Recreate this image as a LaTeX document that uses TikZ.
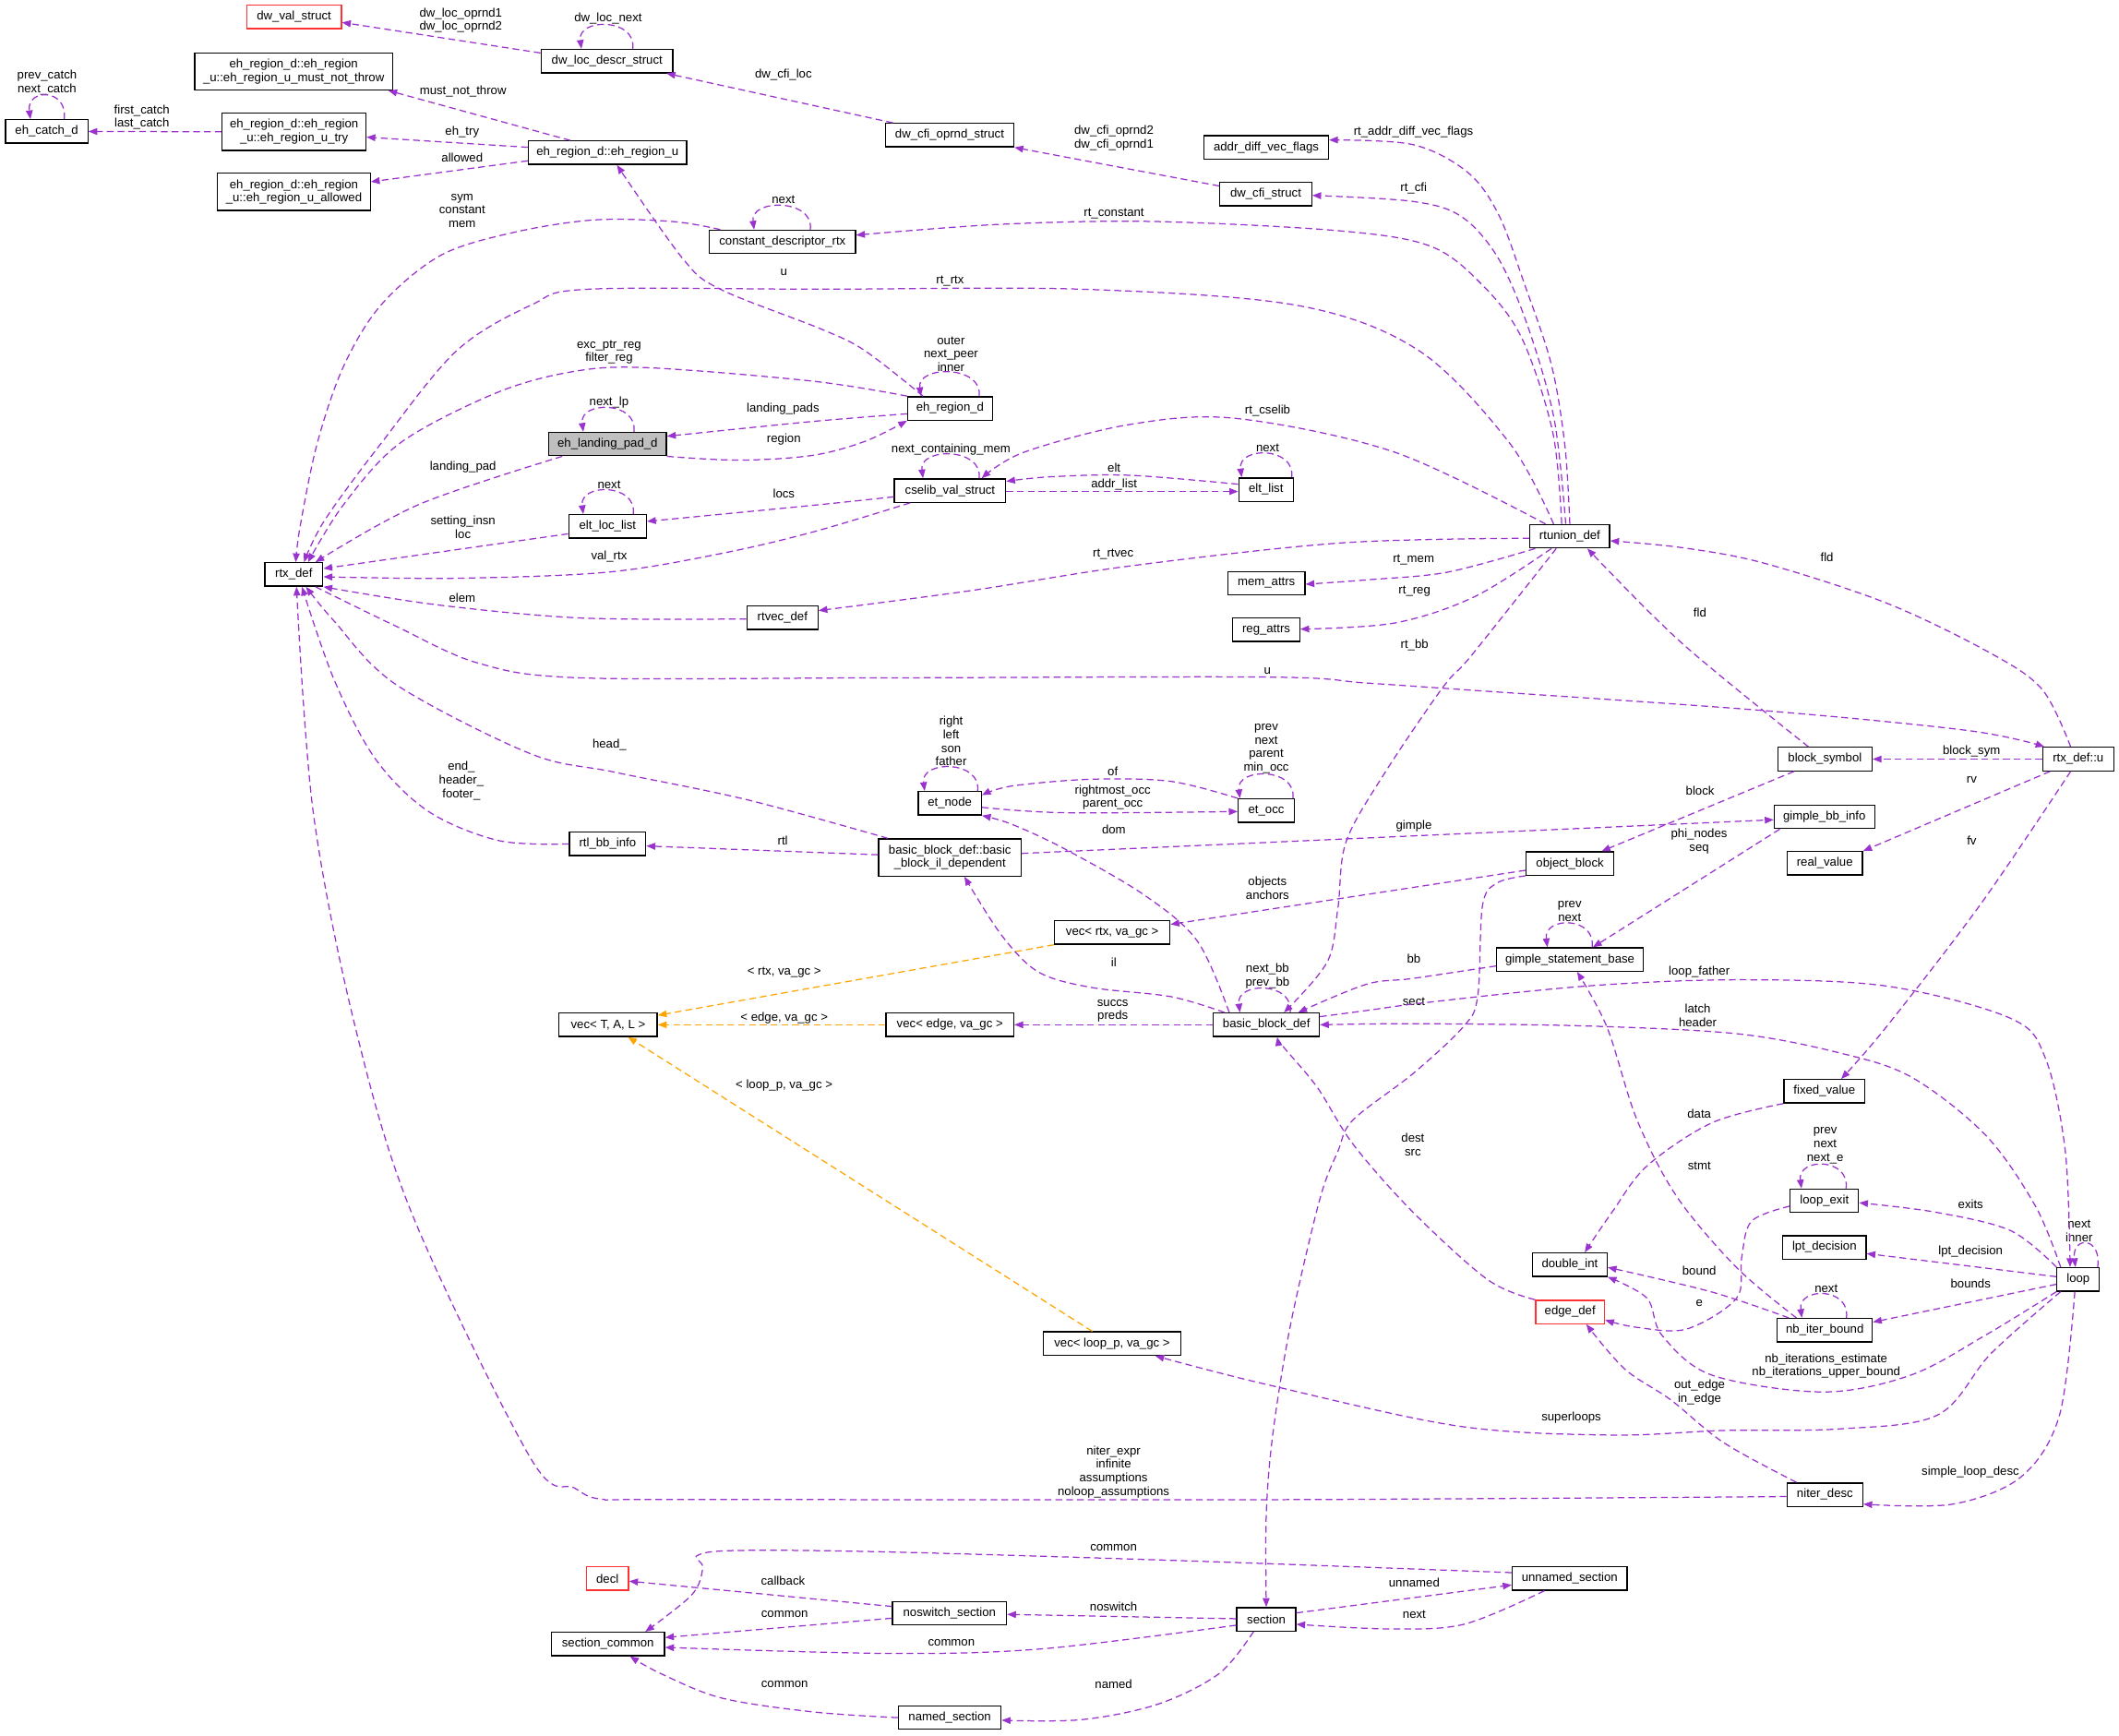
\documentclass[tikz,border=0pt]{standalone}
\usepackage{fontspec}
\setmainfont{Liberation Sans}
\usetikzlibrary{arrows.meta}
\definecolor{edgec}{HTML}{9A32CD}
\definecolor{tmplc}{HTML}{FFA500}
\definecolor{redb}{HTML}{FF3030}
\definecolor{focusc}{HTML}{BFBFBF}
\newcommand\gfont{\fontsize{9}{10}\selectfont}
\newcommand\selfloop[3]{\draw[conn] ([xshift=#3pt]#1.north) .. controls +(3,-23) and +(-3,-23) .. ([xshift=#2pt]#1.north);}
\begin{document}
\begin{tikzpicture}[x=1pt,y=-1pt,
 nbox/.style={draw=black,line width=0.9pt,fill=white,inner sep=0pt,minimum height=17.3pt,font=\gfont,align=center},
 nboxt/.style={nbox,minimum height=27.5pt},
 nboxr/.style={nbox,draw=redb},
 nboxf/.style={nbox,fill=focusc},
 lbl/.style={font=\gfont,align=center,inner sep=0pt},
 conn/.style={draw=edgec,line width=0.85pt,dash pattern=on 5pt off 3pt,-{Triangle[length=6.5pt,width=5pt]}},
 tconn/.style={conn,draw=tmplc},
 sm/.style={smooth,tension=0.55}]
\fill[white] (0,0) rectangle (1568,1284);
\useasboundingbox (0,0) rectangle (1568,1284);
% ---------------- nodes ----------------
\node[nboxr,minimum width=70pt] (dwval) at (217.6,12.6) {dw\_val\_struct};
\node[nbox,minimum width=97.5pt] (dwloc) at (449.2,45.2) {dw\_loc\_descr\_struct};
\node[nboxt,minimum width=146.6pt] (mnt) at (217.3,52.8) {eh\_region\_d::eh\_region\\\_u::eh\_region\_u\_must\_not\_throw};
\node[nbox,minimum width=61pt] (catch) at (34.5,97.3) {eh\_catch\_d};
\node[nboxt,minimum width=106.3pt] (try) at (217.6,97.5) {eh\_region\_d::eh\_region\\\_u::eh\_region\_u\_try};
\node[nbox,minimum width=117pt] (ehu) at (449.5,113) {eh\_region\_d::eh\_region\_u};
\node[nboxt,minimum width=113pt] (allowed) at (217.5,142) {eh\_region\_d::eh\_region\\\_u::eh\_region\_u\_allowed};
\node[nbox,minimum width=95pt] (cfiop) at (702.7,100) {dw\_cfi\_oprnd\_struct};
\node[nbox,minimum width=92pt] (addr) at (937,109) {addr\_diff\_vec\_flags};
\node[nbox,minimum width=68pt] (cfist) at (936.6,143.6) {dw\_cfi\_struct};
\node[nbox,minimum width=108pt] (cdr) at (579,179) {constant\_descriptor\_rtx};
\node[nbox,minimum width=62.7pt] (ehd) at (703,302.2) {eh\_region\_d};
\node[nboxf,minimum width=87pt] (lpad) at (449.6,328.6) {eh\_landing\_pad\_d};
\node[nbox,minimum width=82.3pt] (cselib) at (703,363) {cselib\_val\_struct};
\node[nbox,minimum width=40.4pt] (eltlist) at (936.8,362.3) {elt\_list};
\node[nbox,minimum width=57.5pt] (eltloc) at (449.6,389.5) {elt\_loc\_list};
\node[nbox,minimum width=43pt] (rtx) at (217.4,425.1) {rtx\_def};
\node[nbox,minimum width=59pt] (rtunion) at (1161.6,396.8) {rtunion\_def};
\node[nbox,minimum width=57pt] (memattrs) at (937.1,431.5) {mem\_attrs};
\node[nbox,minimum width=52.5pt] (rtvec) at (579,457.2) {rtvec\_def};
\node[nbox,minimum width=49.5pt] (regattrs) at (937,466) {reg\_attrs};
\node[nbox,minimum width=52.4pt] (rtxu) at (1537.8,561.7) {rtx\_def::u};
\node[nbox,minimum width=69.7pt] (blocksym) at (1350.4,561.7) {block\_symbol};
\node[nbox,minimum width=46.7pt] (etnode) at (702.8,594.4) {et\_node};
\node[nbox,minimum width=41.5pt] (etocc) at (937,599.8) {et\_occ};
\node[nbox,minimum width=74.3pt] (gbb) at (1350,604.4) {gimple\_bb\_info};
\node[nbox,minimum width=56.5pt] (rtlbb) at (449.6,624.5) {rtl\_bb\_info};
\node[nboxt,minimum width=105.5pt] (bbil) at (702.9,634.5) {basic\_block\_def::basic\\\_block\_il\_dependent};
\node[nbox,minimum width=55.8pt] (realval) at (1350.3,638.8) {real\_value};
\node[nbox,minimum width=65pt] (objblock) at (1161.7,639) {object\_block};
\node[nbox,minimum width=85.4pt] (vecrtx) at (823,690) {vec< rtx, va\_gc >};
\node[nbox,minimum width=108.7pt] (gsb) at (1161.7,710) {gimple\_statement\_base};
\node[nbox,minimum width=72.6pt] (vectal) at (450,758.3) {vec< T, A, L >};
\node[nbox,minimum width=94.5pt] (vecedge) at (702.9,758.3) {vec< edge, va\_gc >};
\node[nbox,minimum width=78.4pt] (bbdef) at (937.1,758.3) {basic\_block\_def};
\node[nbox,minimum width=60pt] (fixedval) at (1350,807.5) {fixed\_value};
\node[nbox,minimum width=50.5pt] (loopexit) at (1350,888.5) {loop\_exit};
\node[nbox,minimum width=61.5pt] (lpt) at (1350,923) {lpt\_decision};
\node[nbox,minimum width=55.2pt] (dblint) at (1161.6,935.8) {double\_int};
\node[nbox,minimum width=31.4pt] (loop) at (1537.8,946.7) {loop};
\node[nboxr,minimum width=51pt] (edgedef) at (1161.8,970.8) {edge\_def};
\node[nbox,minimum width=70.3pt] (nbiter) at (1350.3,984.3) {nb\_iter\_bound};
\node[nbox,minimum width=101.6pt] (vecloop) at (822.9,994.2) {vec< loop\_p, va\_gc >};
\node[nbox,minimum width=56pt] (niterdesc) at (1350.4,1106) {niter\_desc};
\node[nboxr,minimum width=31.2pt] (decl) at (449.5,1168) {decl};
\node[nbox,minimum width=85pt] (unnamed) at (1161.5,1168) {unnamed\_section};
\node[nbox,minimum width=84.4pt] (noswitch) at (702.6,1193.7) {noswitch\_section};
\node[nbox,minimum width=43.6pt] (section) at (937,1198.2) {section};
\node[nbox,minimum width=83.8pt] (seccommon) at (449.8,1216.5) {section\_common};
\node[nbox,minimum width=75.9pt] (named) at (702.8,1271) {named\_section};
% ---------------- labels ----------------
\node[lbl] (l1) at (341,15) {dw\_loc\_oprnd1\\dw\_loc\_oprnd2};
\node[lbl] (l2) at (450,14) {dw\_loc\_next};
\node[lbl] (l3) at (579.7,55.1) {dw\_cfi\_loc};
\node[lbl] (l4) at (342.6,67.4) {must\_not\_throw};
\node[lbl] (l5) at (34.8,61.2) {prev\_catch\\next\_catch};
\node[lbl] (l6) at (105,86.8) {first\_catch\\last\_catch};
\node[lbl] (l7) at (342,97.4) {eh\_try};
\node[lbl] (l8) at (342,116.5) {allowed};
\node[lbl] (l9) at (824.3,102.2) {dw\_cfi\_oprnd2\\dw\_cfi\_oprnd1};
\node[lbl] (l10) at (1045.9,97.4) {rt\_addr\_diff\_vec\_flags};
\node[lbl] (l11) at (1046,139.3) {rt\_cfi};
\node[lbl] (l12) at (579.7,148) {next};
\node[lbl] (l13) at (824.3,158.2) {rt\_constant};
\node[lbl] (l14) at (342,156) {sym\\constant\\mem};
\node[lbl] (l15) at (580,201.5) {u};
\node[lbl] (l16) at (703,208) {rt\_rtx};
\node[lbl] (l17) at (703.7,262) {outer\\next\_peer\\inner};
\node[lbl] (l18) at (450.7,260.7) {exc\_ptr\_reg\\filter\_reg};
\node[lbl] (l19) at (579.4,302.7) {landing\_pads};
\node[lbl] (l20) at (450.7,297.5) {next\_lp};
\node[lbl] (l21) at (580,324.9) {region};
\node[lbl] (l22) at (938,303.9) {rt\_cselib};
\node[lbl] (l23) at (703.7,332.8) {next\_containing\_mem};
\node[lbl] (l24) at (938,331.2) {next};
\node[lbl] (l25) at (824.4,346) {elt};
\node[lbl] (l26) at (824.4,358.5) {addr\_list};
\node[lbl] (l27) at (342.6,345.9) {landing\_pad};
\node[lbl] (l28) at (450.7,358.5) {next};
\node[lbl] (l29) at (580,365.3) {locs};
\node[lbl] (l30) at (342.6,390) {setting\_insn\\loc};
\node[lbl] (l31) at (450.7,411.6) {val\_rtx};
\node[lbl] (l32) at (823.7,410.2) {rt\_rtvec};
\node[lbl] (l33) at (1046,414.3) {rt\_mem};
\node[lbl] (l34) at (1351.9,412) {fld};
\node[lbl] (l35) at (1046.7,437.7) {rt\_reg};
\node[lbl] (l36) at (342,442.3) {elem};
\node[lbl] (l37) at (1257.9,453) {fld};
\node[lbl] (l38) at (1046.7,477.6) {rt\_bb};
\node[lbl] (l39) at (937.8,496.7) {u};
\node[lbl] (l40) at (703.8,548.4) {right\\left\\son\\father};
\node[lbl] (l41) at (937,554.1) {prev\\next\\parent\\min\_occ};
\node[lbl] (l42) at (451,550.8) {head\_};
\node[lbl] (l43) at (1458.9,556) {block\_sym};
\node[lbl] (l44) at (823.4,570.7) {of};
\node[lbl] (l45) at (341.4,577.7) {end\_\\header\_\\footer\_};
\node[lbl] (l46) at (1459,577) {rv};
\node[lbl] (l47) at (1258,585) {block};
\node[lbl] (l48) at (823.4,590.2) {rightmost\_occ\\parent\_occ};
\node[lbl] (l49) at (1046.2,611.2) {gimple};
\node[lbl] (l50) at (824.2,613.5) {dom};
\node[lbl] (l51) at (579.2,621.9) {rtl};
\node[lbl] (l52) at (1257.3,622.5) {phi\_nodes\\seq};
\node[lbl] (l53) at (1459,621.9) {fv};
\node[lbl] (l54) at (937.9,657) {objects\\anchors};
\node[lbl] (l55) at (1161.5,674.5) {prev\\next};
\node[lbl] (l56) at (1046.2,709.7) {bb};
\node[lbl] (l57) at (824.2,712) {il};
\node[lbl] (l58) at (580.3,719.3) {< rtx, va\_gc >};
\node[lbl] (l59) at (937.9,722.2) {next\_bb\\prev\_bb};
\node[lbl] (l60) at (1257.4,718.9) {loop\_father};
\node[lbl] (l61) at (1046.2,741) {sect};
\node[lbl] (l62) at (823.4,748.1) {succs\\preds};
\node[lbl] (l63) at (1256.3,751.4) {latch\\header};
\node[lbl] (l64) at (580.3,753.4) {< edge, va\_gc >};
\node[lbl] (l65) at (580.2,803) {< loop\_p, va\_gc >};
\node[lbl] (l66) at (1257.4,824) {data};
\node[lbl] (l67) at (1350.6,847.6) {prev\\next\\next\_e};
\node[lbl] (l68) at (1045.5,846.9) {dest\\src};
\node[lbl] (l69) at (1257.4,862.8) {stmt};
\node[lbl] (l70) at (1458.2,891.2) {exits};
\node[lbl] (l71) at (1538.5,910.8) {next\\inner};
\node[lbl] (l72) at (1458.2,925.8) {lpt\_decision};
\node[lbl] (l73) at (1257.4,940.2) {bound};
\node[lbl] (l74) at (1458.2,949.7) {bounds};
\node[lbl] (l75) at (1351.3,953.4) {next};
\node[lbl] (l76) at (1257.4,964) {e};
\node[lbl] (l77) at (1351.3,1010.9) {nb\_iterations\_estimate\\nb\_iterations\_upper\_bound};
\node[lbl] (l78) at (1257.6,1030.2) {out\_edge\\in\_edge};
\node[lbl] (l79) at (1162.7,1049) {superloops};
\node[lbl] (l80) at (824,1089.1) {niter\_expr\\infinite\\assumptions\\noloop\_assumptions};
\node[lbl] (l81) at (1458,1089.2) {simple\_loop\_desc};
\node[lbl] (l82) at (824,1145.3) {common};
\node[lbl] (l83) at (579.4,1169.6) {callback};
\node[lbl] (l84) at (1046.5,1171.2) {unnamed};
\node[lbl] (l85) at (824,1188.9) {noswitch};
\node[lbl] (l86) at (580.6,1194.4) {common};
\node[lbl] (l87) at (1046.5,1194.6) {next};
\node[lbl] (l88) at (704,1215.6) {common};
\node[lbl] (l89) at (580.6,1246.3) {common};
\node[lbl] (l90) at (824,1246.3) {named};
% ---------------- connectors ----------------
\draw[conn] ([yshift=6pt]dwloc.west) -- ([yshift=-4pt]dwval.east);
\selfloop{dwloc}{-19}{19}
\draw[conn] ([xshift=-42pt]cfiop.north) -- ([xshift=44pt]dwloc.south);
\draw[conn] ([xshift=-27.5pt]ehu.north) -- ([xshift=70pt]mnt.south);
\draw[conn] ([yshift=4pt]ehu.west) -- ([yshift=-4pt]try.east);
\draw[conn] ([yshift=-6pt]ehu.west) -- ([yshift=7.5pt]allowed.east);
\draw[conn] (try.west) -- (catch.east);
\selfloop{catch}{-12}{13}
\draw[conn] ([yshift=6pt]cfist.west) -- (cfiop.south east);
\draw[conn] plot[sm] coordinates {(rtunion.north) (1158,330) (1148,270) (1128,210) (1109,159) (1086,127.5) (1045.5,107) ([yshift=5.4pt]addr.east)};
\draw[conn] plot[sm] coordinates {([xshift=-3pt]rtunion.north) (1150,310) (1130,240) (1108,190) (1081,160) (1045,149) ([yshift=-1pt]cfist.east)};
\draw[conn] plot[sm] coordinates {([xshift=-6pt]rtunion.north) (1149,320) (1126,250) (1096,210) (1058,182) (990,170.7) (853.6,163.9) (740,166) ([yshift=5pt]cdr.east)};
\selfloop{cdr}{-21}{20.6}
\draw[conn] plot[sm] coordinates {([xshift=-46pt]cdr.north) (498.5,164) (440,162.7) (380,172) (326,189) (282.2,225.4) (254.3,270.9) (234.8,327.8) (222,390) ([xshift=1.5pt]rtx.north)};
\draw[conn] plot[sm] coordinates {([xshift=-12pt]rtunion.north) (1117,327.8) (1050,259.5) (960,226) (800,214) (607.7,214) (435.5,214) (393.7,225.4) (337.9,259.5) (282.2,327.8) (240.4,384.7) ([xshift=7.5pt]rtx.north)};
\draw[conn] plot[sm] coordinates {([xshift=-20pt]ehd.north) (640,259.5) (607.7,243.5) (533,214) (505.1,191.2) ([xshift=7pt]ehu.south)};
\selfloop{ehd}{-21.6}{21.5}
\draw[conn] plot[sm] coordinates {(ehd.north west) (601,282) (477.3,272) (421.5,275.4) (365.8,291.3) (296.1,327.8) (254.3,373.3) ([xshift=10.5pt]rtx.north)};
\draw[conn] plot[sm] coordinates {([yshift=-4pt]ehd.west) (601,311.9) ([yshift=5.8pt]lpad.east)};
\draw[conn] plot[sm] coordinates {(lpad.south east) (547,340.5) (601,337) (640,326.6) (ehd.south west)};
\selfloop{lpad}{-18}{19.5}
\draw[conn] plot[sm] coordinates {([xshift=-18pt]rtunion.north) (1032,334.6) (914.6,309.6) (836,314.1) (757.8,334.6) ([xshift=23.4pt]cselib.north)};
\selfloop{cselib}{-20}{21.5}
\selfloop{eltlist}{-18}{19}
\draw[conn] plot[sm] coordinates {([yshift=4pt]eltlist.west) (836.2,351.7) (777.4,352.8) ([yshift=6.8pt]cselib.east)};
\draw[conn] ([yshift=-0.7pt]cselib.east) -- ([yshift=-1.4pt]eltlist.west);
\draw[conn] plot[sm] coordinates {([yshift=-4.6pt]cselib.west) (607.7,373.3) ([yshift=3.7pt]eltloc.east)};
\draw[conn] plot[sm] coordinates {([xshift=-29.5pt]cselib.south) (601,393.8) (533,409.7) (449.4,423.4) (337.9,427.9) ([yshift=-1.7pt]rtx.east)};
\selfloop{eltloc}{-18}{19}
\draw[conn] plot[sm] coordinates {([xshift=-33.6pt]lpad.south) (310,373.3) ([xshift=16pt]rtx.north)};
\draw[conn] ([yshift=-5.5pt]eltloc.west) -- ([yshift=4.4pt]rtx.east);
\draw[conn] plot[sm] coordinates {([yshift=-1.5pt]rtunion.west) (993,401.7) (836.2,418.8) (718.6,437) ([yshift=5.4pt]rtvec.east)};
\draw[conn] plot[sm] coordinates {([yshift=-0.8pt]rtvec.west) (429.9,457.3) (323,447.5) (rtx.south east)};
\draw[conn] plot[sm] coordinates {([xshift=-25.6pt]rtunion.south) (1071,423.4) (1012.6,429) ([yshift=-0.8pt]memattrs.east)};
\draw[conn] plot[sm] coordinates {([xshift=-13.6pt]rtunion.south) (1091,441.6) (1032,461) ([yshift=0.5pt]regattrs.east)};
\draw[conn] plot[sm] coordinates {([xshift=-10pt]rtunion.south) (1089,484.8) (1067.5,508.8) (1024,573) (996,623) (990,672) (982,712) ([xshift=13pt]bbdef.north)};
\draw[conn] plot[sm] coordinates {([xshift=-5.6pt]rtxu.north) (1511,510) (1471.6,482.6) (1395.8,446.2) (1304.9,416.6) (1244.3,405.2) ([yshift=-3.4pt]rtunion.east)};
\draw[conn] plot[sm] coordinates {([xshift=-12.2pt]blocksym.north) (1244.3,475.7) ([xshift=13pt]rtunion.south)};
\draw[conn] plot[sm] coordinates {([xshift=16pt]rtx.south) (292.7,463.2) (353.6,490.6) (429.9,501.6) (648.8,501.6) (937.8,501) (1010.8,505.4) (1092.7,511) (1304.9,525.8) (1456.4,540.6) ([xshift=-25pt]rtxu.north)};
\draw[conn] plot[sm] coordinates {([xshift=-46pt]bbil.north) (552.9,591.8) (454.9,571.4) (392,557.5) (292.7,506.3) (247,459.3) ([xshift=9pt]rtx.south)};
\draw[conn] plot[sm] coordinates {(rtlbb.west) (369,622) (317,600.4) (277.5,561.2) (247,502.4) ([xshift=6pt]rtx.south)};
\draw[conn] ([yshift=2pt]bbil.west) -- ([yshift=-1.5pt]rtlbb.east);
\draw[conn] plot[sm] coordinates {([yshift=-1.4pt]niterdesc.west) (937,1109.7) (500,1109.5) (445,1109.3) (425,1101) (392.6,1079) (304.9,898.3) (262.2,757.2) (231.7,600.4) ([xshift=2pt]rtx.south)};
\draw[conn] ([yshift=3pt]bbil.east) -- ([yshift=-2.2pt]gbb.west);
\draw[conn] ([xshift=-22.8pt]blocksym.south) -- ([xshift=23.4pt]objblock.north);
\draw[conn] ([xshift=-33pt]gbb.south) -- ([xshift=17pt]gsb.north);
\draw[conn] ([xshift=-20.8pt]rtxu.south) -- (realval.north east);
\draw[conn] plot[sm] coordinates {([xshift=-5.6pt]rtxu.south) (1465.5,669.2) (1395.5,760.3) ([xshift=12.4pt]fixedval.north)};
\draw[conn] ([yshift=-5pt]objblock.west) -- ([yshift=6pt]vecrtx.east);
\draw[conn] plot[sm] coordinates {(objblock.south west) (1107.9,653.3) (1097,670) (1093.4,737.6) (1082.3,760.3) (1045.5,794.5) (1001.3,828.6) (990.2,851.4) (976.5,887.8) (955,980) (942,1060) (937,1120) (section.north)};
\draw[conn] plot[sm] coordinates {([yshift=-4.8pt]gsb.west) (1045.5,724) (1010.8,728.4) ([xshift=23.5pt]bbdef.north)};
\selfloop{gsb}{-16.7}{16.4}
\draw[conn] plot[sm] coordinates {([yshift=6pt]bbdef.east) (1010.8,747.8) (1056.5,741.7) (1174.4,729.6) (1285,725) (1395.6,729.6) (1487.7,753.5) (1513.5,783) (1528.2,851.4) ([xshift=-6pt]loop.north)};
\draw[conn] plot[sm] coordinates {([xshift=-13pt]loop.north) (1506.1,892.4) (1469.3,840) (1414,796.8) (1358.7,778.5) (1285,764.9) (1174.4,759.2) (1050,757.5) (bbdef.east)};
\draw[conn] plot[sm] coordinates {(loop.north west) (1487.7,910.6) (1432.4,897) ([yshift=-1.5pt]loopexit.east)};
\draw[conn] ([yshift=2pt]loop.west) -- ([yshift=-4.6pt]lpt.east);
\draw[conn] ([yshift=-3.6pt]loop.west) -- ([yshift=6pt]nbiter.east);
\selfloop{loop}{-2}{14.4}
\draw[conn] plot[sm] coordinates {(loop.south west) (1469.3,987.9) (1414,1017.5) (1349,1030) (1266.6,1017.5) (1229.7,987.9) (1218.7,960.6) (dblint.south east)};
\draw[conn] plot[sm] coordinates {(fixedval.south west) (1266.6,830.9) (1218.7,862.8) (1192.9,896.9) ([xshift=11pt]dblint.north)};
\draw[conn] plot[sm] coordinates {([xshift=-21pt]nbiter.north) (1285,937.9) (1240.8,885.5) (1211.3,828.6) (1189.2,760.3) ([xshift=5.3pt]gsb.south)};
\draw[conn] plot[sm] coordinates {([xshift=-26.6pt]nbiter.north) (1266.6,956) ([yshift=-2pt]dblint.east)};
\draw[conn] plot[sm] coordinates {([yshift=-4pt]loopexit.west) (1296,903.7) (1288.7,931) (1285,960.6) (1248.2,983.4) (1211.3,982.2) ([yshift=-6pt]edgedef.east)};
\selfloop{nbiter}{-17}{16}
\selfloop{loopexit}{-17}{16}
\draw[conn] plot[sm] coordinates {([xshift=-21pt]niterdesc.north) (1275.6,1067.6) (1236.1,1035.7) (1202.2,1013) ([xshift=12pt]edgedef.south)};
\draw[conn] plot[sm] coordinates {([xshift=-13pt]loop.south) (1473.2,1001.6) (1433.7,1047.1) (1360.3,1057.4) (1275.6,1058.5) (1191,1061.9) (1078.1,1055.1) (937,1024.4) ([xshift=32pt]vecloop.south)};
\draw[conn] plot[sm] coordinates {([xshift=-2.5pt]loop.south) (1524,1047) (1495.8,1092.6) (1445,1113) ([yshift=-7pt]niterdesc.east)};
\draw[conn] plot[sm] coordinates {([xshift=-26pt]edgedef.north) (1100.8,946.9) (1045.5,896.9) (1001.3,846.8) (975,805) (950,775) ([xshift=8pt]bbdef.south)};
\draw[tconn] (vecrtx.south west) -- ([yshift=7pt]vectal.east);
\draw[tconn] (vecedge.west) -- (vectal.east);
\draw[tconn] ([xshift=-14.7pt]vecloop.north) -- ([xshift=14.7pt]vectal.south);
\draw[conn] (bbdef.west) -- (vecedge.east);
\draw[conn] plot[sm] coordinates {([xshift=-31pt]bbdef.north) (866.5,737.5) (807.7,730.7) (768.5,719.3) (741.1,692) ([xshift=10.7pt]bbil.south)};
\draw[conn] plot[sm] coordinates {([xshift=-27.5pt]bbdef.north) (886.1,696.5) (846.9,662.4) (788.1,628.3) (748.9,610) (etnode.south east)};
\selfloop{bbdef}{-19.6}{17.6}
\draw[conn] plot[sm] coordinates {(etocc.north west) (866.5,578.2) (807.7,576.6) (748.9,581.6) ([yshift=6pt]etnode.east)};
\draw[conn] plot[sm] coordinates {([yshift=-3pt]etnode.east) (788.1,601.4) ([yshift=-0.7pt]etocc.west)};
\selfloop{etnode}{-18.6}{20.6}
\selfloop{etocc}{-19.5}{19.7}
\draw[conn] (rtxu.west) -- (blocksym.east);
\draw[conn] plot[sm] coordinates {([yshift=4.3pt]unnamed.west) (885.2,1155.2) (658.7,1148.4) (545.5,1147.3) (516,1151) (520,1160) (512,1180) ([xshift=27.7pt]seccommon.north)};
\draw[conn] ([yshift=5pt]noswitch.west) -- ([yshift=-2pt]decl.east);
\draw[conn] ([yshift=-3.7pt]noswitch.west) -- ([yshift=4.8pt]seccommon.east);
\draw[conn] ([yshift=0.4pt]section.west) -- ([yshift=-0.9pt]noswitch.east);
\draw[conn] plot[sm] coordinates {([yshift=-4.4pt]section.west) (772,1220) (658.7,1223.5) ([yshift=-2.5pt]seccommon.east)};
\draw[conn] plot[sm] coordinates {(named.west) (602,1266.8) (534.1,1256.5) (488.8,1238.3) ([xshift=16.4pt]seccommon.south)};
\draw[conn] plot[sm] coordinates {([xshift=-9.4pt]section.south) (902.2,1238.3) (856.9,1261) (800.2,1272.5) ([yshift=-1.9pt]named.east)};
\draw[conn] ([yshift=4.7pt]section.east) -- ([yshift=-4.8pt]unnamed.west);
\draw[conn] plot[sm] coordinates {([xshift=-18.7pt]unnamed.south) (1083.3,1201.9) (1026.7,1205.3) ([yshift=-3.7pt]section.east)};
\end{tikzpicture}
\end{document}
